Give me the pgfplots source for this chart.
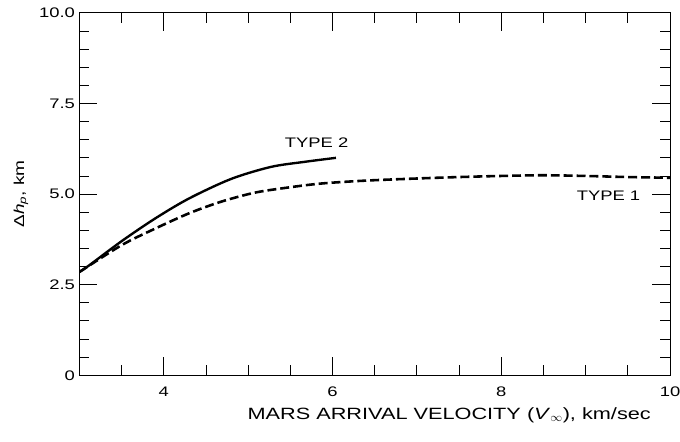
\documentclass[border=0pt]{standalone}
\usepackage{pgfplots}
\pgfplotsset{compat=1.18}
\usepackage{fontspec}
\setmainfont{Liberation Sans}[FakeStretch=1.33]
\begin{document}
\begin{tikzpicture}
\begin{axis}[
  scale only axis, width=595bp, height=365bp,
  xmin=3, xmax=10, ymin=0, ymax=10,
  xtick={4,6,8,10}, minor xtick={3.5,4.5,5,5.5,6.5,7,7.5,8.5,9,9.5},
  ytick={0,2.5,5,7.5,10}, yticklabels={0,2.5,5.0,7.5,10.0},
  minor ytick={0.5,1,1.5,2,3,3.5,4,4.5,5.5,6,6.5,7,8,8.5,9,9.5},
  tick align=inside, major tick length=18bp, minor tick length=10bp,
  every tick/.style={black, line width=0.9pt},
  axis line style={line width=1.1pt},
  /pgf/number format/assume math mode=true,
  tick label style={font=\fontsize{14}{16}\selectfont},
  xticklabel style={yshift=-8bp},
  yticklabel style={xshift=-1bp},
  xlabel={MARS ARRIVAL VELOCITY (\textit{V}\textsubscript{$\infty$}), km/sec},
  xlabel style={font=\fontsize{16.5}{18}\selectfont, yshift=-4bp, xshift=75bp},
  ylabel={Δ\textit{h}\textsubscript{\textit{p}}, km},
  ylabel style={font=\fontsize{14.5}{16}\selectfont, yshift=4bp},
]
\addplot[black, line width=2.4pt, smooth] coordinates {
 (3.0,2.85) (3.12,3.04) (3.5,3.70) (3.9,4.33) (4.3,4.88) (4.8,5.42) (5.27,5.75) (5.67,5.89) (6.04,6.0)
};
\addplot[black, line width=2.6pt, dash pattern=on 9bp off 4bp, smooth] coordinates {
 (3.0,2.85) (3.5,3.59) (3.9,4.05) (4.3,4.47) (4.68,4.79) (5.08,5.04) (5.47,5.18) (5.86,5.29) (6.38,5.37) (7.0,5.43) (7.5,5.47) (8.0,5.5) (8.5,5.52) (9.0,5.5) (9.5,5.47) (10.0,5.45)
};
\node[font=\fontsize{14}{16}\selectfont] at (axis cs:5.81,6.41) {TYPE 2};
\node[font=\fontsize{14}{16}\selectfont] at (axis cs:9.27,4.96) {TYPE 1};
\coordinate (ll) at (rel axis cs:0,0);
\coordinate (ur) at (rel axis cs:1,1);
\end{axis}
\pgfresetboundingbox
\path ([shift={(-80bp,-67bp)}]ll) rectangle ([shift={(10bp,13bp)}]ur);
\end{tikzpicture}
\end{document}
